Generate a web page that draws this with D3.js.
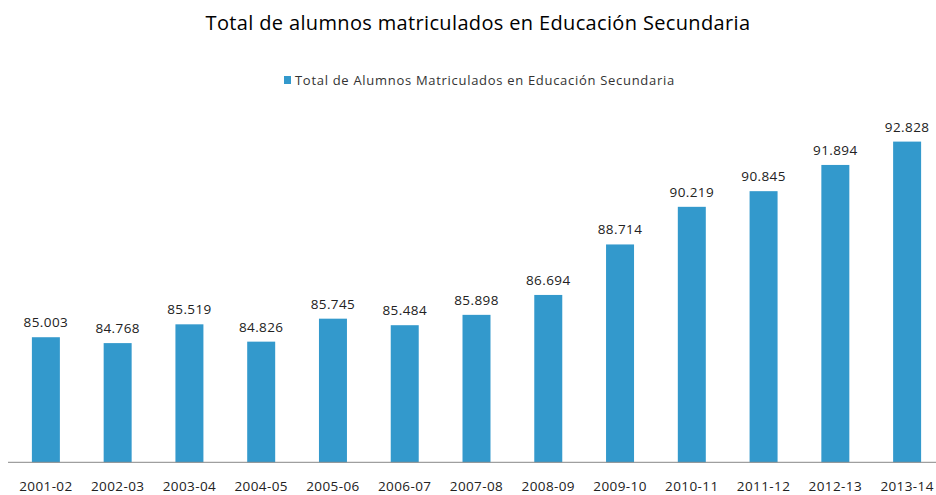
<!DOCTYPE html>
<html lang="es">
<head>
<meta charset="UTF-8">
<title>Total de alumnos matriculados en Educación Secundaria</title>
<script src="https://cdn.jsdelivr.net/npm/d3@7"></script>
<style>
  body { margin: 0; background: #fff; }
  svg text { font-family: "Open Sans", "DejaVu Sans", sans-serif; fill: #222; }
</style>
</head>
<body>
<div id="chart"></div>
<script>
// data
var cursos = ["2001-02", "2002-03", "2003-04", "2004-05", "2005-06", "2006-07", "2007-08",
              "2008-09", "2009-10", "2010-11", "2011-12", "2012-13", "2013-14"];
var alumnos = [85003, 84768, 85519, 84826, 85745, 85484, 85898,
               86694, 88714, 90219, 90845, 91894, 92828];
var titulo = "Total de alumnos matriculados en Educación Secundaria";
var serie = "Total de Alumnos Matriculados en Educación Secundaria";

var width = 936, height = 495;

var svg = d3.select("#chart").append("svg")
    .attr("width", width)
    .attr("height", height);

// scales
var x = d3.scaleBand()
    .domain(cursos)
    .range([10, 943])
    .paddingInner(0.61)
    .paddingOuter(0.305);

var y = d3.scaleLinear()
    .domain([80000, 94000])
    .range([462.3, 112.3]);

var fmt = function (v) { return d3.format(",")(v).replace(/,/g, "."); };

// title
svg.append("text")
    .attr("x", 478)
    .attr("y", 30)
    .attr("text-anchor", "middle")
    .style("font-size", "20px")
    .style("letter-spacing", "0.35px")
    .style("fill", "#000")
    .text(titulo);

// legend
var legend = svg.append("g").attr("transform", "translate(284,76)");
legend.append("rect")
    .attr("width", 7).attr("height", 8)
    .attr("fill", "#3399cc");
legend.append("text")
    .attr("x", 11).attr("y", 8.5)
    .style("font-size", "13px")
    .style("letter-spacing", "0.7px")
    .style("fill", "#333")
    .text(serie);

// bars
svg.append("g")
    .selectAll("rect")
    .data(alumnos)
    .enter()
    .append("rect")
    .attr("x", function (d, i) { return x(cursos[i]); })
    .attr("y", function (d) { return y(d); })
    .attr("width", x.bandwidth())
    .attr("height", function (d) { return y(80000) - y(d); })
    .attr("fill", "#3399cc");

// value labels
svg.append("g")
    .selectAll("text")
    .data(alumnos)
    .enter()
    .append("text")
    .attr("x", function (d, i) { return x(cursos[i]) + x.bandwidth() / 2; })
    .attr("y", function (d) { return y(d) - 10; })
    .attr("text-anchor", "middle")
    .style("font-size", "13.5px")
    .style("letter-spacing", "0.4px")
    .text(fmt);

// x axis
var xAxis = svg.append("g")
    .attr("transform", "translate(0," + y(80000) + ")")
    .call(d3.axisBottom(x).tickSize(0).tickPadding(19));
xAxis.select(".domain").attr("stroke", "#888").attr("d", "M8,0H936");
xAxis.selectAll("text")
    .style("font-size", "13.5px")
    .style("letter-spacing", "0.4px")
    .style("font-family", "\"Open Sans\", sans-serif")
    .attr("fill", "#222");
</script>
</body>
</html>
